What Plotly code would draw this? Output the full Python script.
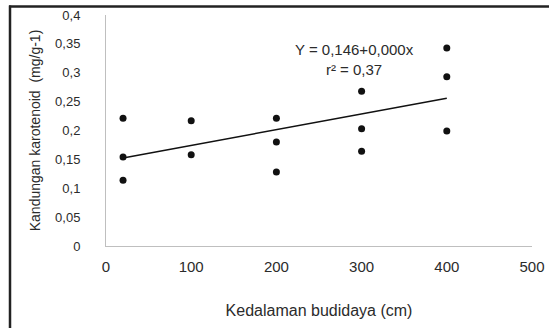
import numpy as np
import plotly.graph_objects as go

depth = [20, 20, 20, 100, 100, 200, 200, 200, 300, 300, 300, 400, 400, 400]
carotenoid = [0.221, 0.154, 0.114, 0.217, 0.158, 0.221, 0.180, 0.128,
              0.268, 0.203, 0.164, 0.343, 0.293, 0.199]
x_ticks = [0, 100, 200, 300, 400, 500]
y_ticks = [0, 0.05, 0.1, 0.15, 0.2, 0.25, 0.3, 0.35, 0.4]
equation_text = "Y = 0,146+0,000x"
r2_text = "r² = 0,37"

slope, intercept = np.polyfit(depth, carotenoid, 1)
fit_x = [min(depth), max(depth)]
fit_y = [intercept + slope * v for v in fit_x]

font = "Liberation Sans, Arial, sans-serif"
txt = "#2b2b2b"

fig = go.Figure()
fig.add_trace(go.Scatter(x=fit_x, y=fit_y, mode="lines",
                         line=dict(color="#111111", width=1.5), showlegend=False))
fig.add_trace(go.Scatter(x=depth, y=carotenoid, mode="markers",
                         marker=dict(color="#111111", size=7), showlegend=False))

W, H = 549, 328
ml, mr, mt, mb = 106, 17, 15, 82
pw, ph = W - ml - mr, H - mt - mb


def px(xp):
    return (xp - ml) / pw


def py(yp):
    return (H - mb - yp) / ph


fig.update_layout(
    width=W, height=H,
    margin=dict(l=ml, r=mr, t=mt, b=mb, autoexpand=False),
    paper_bgcolor="white", plot_bgcolor="white",
    separators=",.",
    font=dict(family=font, size=13, color=txt),
    xaxis=dict(range=[0, 500], tickvals=x_ticks, showgrid=False, zeroline=False,
               showline=True, linecolor="#bfbfbf", linewidth=1, ticks="",
               ticklabelstandoff=7, automargin=False,
               tickfont=dict(size=15, color=txt),
               title=dict(text="Kedalaman budidaya (cm)", standoff=30,
                          font=dict(size=16, color=txt))),
    yaxis=dict(range=[0, 0.4], tickvals=y_ticks, showgrid=False, zeroline=False,
               showline=True, linecolor="#bfbfbf", linewidth=1, ticks="",
               ticklabelstandoff=22, automargin=False,
               tickfont=dict(size=13, color=txt),
               title=dict(text="Kandungan karotenoid  (mg/g-1)", standoff=11,
                          font=dict(size=14, color=txt))),
    annotations=[
        dict(x=291.5, y=0.3225, xref="x", yref="y",
             text=equation_text + "<br>" + r2_text, showarrow=False, align="center",
             font=dict(size=15, color=txt)),
    ],
    shapes=[
        dict(type="line", xref="paper", yref="paper", x0=px(10), x1=px(10),
             y0=py(5.5), y1=py(330), line=dict(color="#222222", width=2.5)),
        dict(type="line", xref="paper", yref="paper", x0=px(9), x1=px(550),
             y0=py(6.5), y1=py(6.5), line=dict(color="#222222", width=2.5)),
    ],
)

fig.write_html("out.html", config={"displayModeBar": False},
               post_script="document.body.style.margin='0px';")
